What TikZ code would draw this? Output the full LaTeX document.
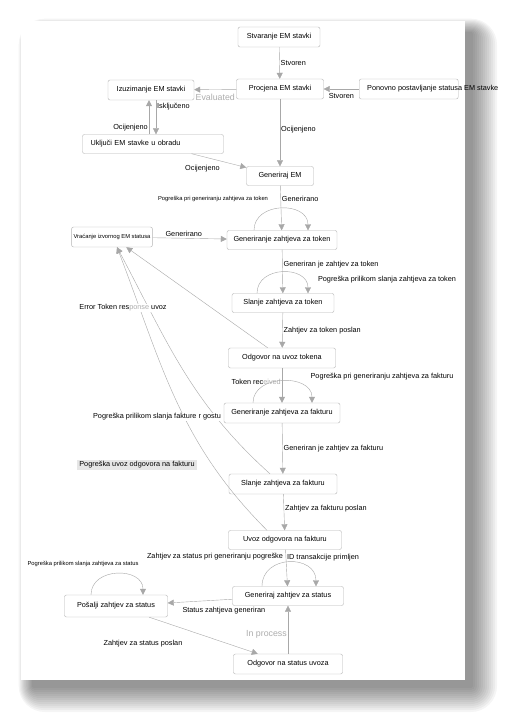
\documentclass[tikz,border=0pt]{standalone}
\usepackage{fontspec}
\setmainfont{Liberation Sans}
\usetikzlibrary{arrows.meta,calc,positioning}
\definecolor{boxline}{HTML}{B4B4B4}
\definecolor{arrowline}{HTML}{A8A8A8}
\definecolor{softtext}{HTML}{ADADAD}
\definecolor{labelfill}{HTML}{E6E6E6}

\begin{document}
\begin{tikzpicture}[x=1pt,y=-1pt,
  font=\fontsize{7.3}{8.5}\selectfont,
  stage/.style={draw=boxline,rounded corners=2pt,fill=white,
                minimum height=20pt,inner sep=2pt},
  trans/.style={draw=arrowline,-{Triangle[length=6pt,width=6pt]}},
  lbl/.style={inner sep=1pt},
  tinylbl/.style={inner sep=1pt,font=\fontsize{5.8}{7}\selectfont},
  soft/.style={inner sep=1pt,text=softtext,font=\fontsize{8.8}{10}\selectfont}
]
  \useasboundingbox (0,0) rectangle (507,722);
  % page with its shadow
  \foreach \rad in {2,4,...,26}
    \fill[black,opacity=0.04,rounded corners=\rad pt]
      (33-0.55*\rad,33-0.55*\rad) rectangle (471+\rad,686+\rad);
  \fill[white] (21,21) rectangle (465,680);

  \node[stage,minimum width=82pt] (create) at (279,37) {Stvaranje EM stavki};
  \node[stage,minimum width=87pt] (assess) at (280,89) {Procjena EM stavki};
  \node[stage,minimum width=86pt] (exclude) at (151,90) {Izuzimanje EM stavki};
  \node[stage,anchor=west,inner xsep=8pt] (reset) at (359,89)
    {\makebox[83pt][l]{Ponovno postavljanje statusa EM stavke}};
  \node[stage,minimum height=19pt,text width=125pt,inner xsep=8pt,align=left]
    (include) at (153,144) {Uključi EM stavke u obradu};
  \node[stage,minimum width=67pt,minimum height=19pt] (genem) at (280,176) {Generiraj EM};
  \node[stage,minimum width=110pt,minimum height=19pt] (gentok) at (282,240)
    {Generiranje zahtjeva za token};
  \node[stage,minimum width=79pt,font=\fontsize{5.8}{7}\selectfont] (revert) at (112,237)
    {Vraćanje izvornog EM statusa};
  \node[stage,minimum width=102pt,minimum height=19pt] (sendtok) at (283,303)
    {Slanje zahtjeva za token};
  \node[stage,minimum width=107pt] (resptok) at (282,358) {Odgovor na uvoz tokena};
  \node[stage,minimum width=116pt] (genfak) at (282,413) {Generiranje zahtjeva za fakturu};
  \node[stage,minimum width=108pt] (sendfak) at (283,484) {Slanje zahtjeva za fakturu};
  \node[stage,minimum width=113pt,minimum height=19pt] (importfak) at (285,540)
    {Uvoz odgovora na fakturu};
  \node[stage,minimum width=111pt,minimum height=19pt] (genstat) at (288,596)
    {Generiraj zahtjev za status};
  \node[stage,minimum width=103pt,minimum height=22pt] (sendstat) at (116,606)
    {Pošalji zahtjev za status};
  \node[stage,minimum width=109pt] (respstat) at (288,664) {Odgovor na status uvoza};

  \draw[trans] (create) -- node[lbl,right] {Stvoren} (assess);
  \draw[trans] (reset) -- node[lbl,below=3pt] {Stvoren} (assess);
  \draw[trans] (assess) -- node[soft,below=3pt] {Evaluated} (exclude);
  \draw[trans] ([xshift=5pt]exclude.south) -- node[lbl,right,pos=0.2] {Isključeno}
    ([xshift=3pt]include.north);
  \draw[trans] ([xshift=-4pt]include.north) -- node[lbl,left,pos=0.2] {Ocijenjeno}
    ([xshift=-2pt]exclude.south);
  \draw[trans] (include) -- node[lbl,pos=0.2,below=8pt] {Ocijenjeno} (genem);
  \draw[trans] (assess) -- node[lbl,right,pos=0.45] {Ocijenjeno} (genem);
  \draw[trans] (genem) -- node[lbl,right,pos=0.3] {Generirano} (gentok);
  \draw[trans] (revert) -- node[lbl,above,pos=0.42] {Generirano} (gentok);
  \draw[trans] (gentok) -- node[lbl,right,pos=0.35] {Generiran je zahtjev za token} (sendtok);
  \draw[trans] (sendtok) -- node[lbl,right] {Zahtjev za token poslan} (resptok);
  \draw[trans] (resptok) -- (revert);
  \draw[trans] (resptok) -- node[lbl,left,pos=0.4] {Token rec\textcolor{softtext}{eived}} (genfak);
  \draw[trans] (genfak) -- node[lbl,right] {Generiran je zahtjev za fakturu} (sendfak);
  \draw[trans] ([xshift=-13pt]sendfak.north) to[out=138,in=-62] ([xshift=5pt]revert.south);
  \draw[trans] (sendfak) -- node[lbl,right,pos=0.4] {Zahtjev za fakturu poslan} (importfak);
  \draw[trans] ([xshift=-18pt]importfak.north) to[out=135,in=-69] ([xshift=5pt]revert.south);
  \draw[trans] (importfak) -- node[lbl,right,pos=0.22] {ID transakcije primljen} (genstat);
  \draw[trans] (genstat) -- node[lbl,below=6pt,pos=0.13] {Status zahtjeva generiran} (sendstat);
  \draw[trans] (sendstat) -- (respstat);
  \draw[trans] (respstat) -- node[soft,left,pos=0.4] {In process} (genstat);

  % error loops
  \draw[trans] ([xshift=-28pt]gentok.north) .. controls +(0,-29) and +(0,-29) .. ([xshift=26pt]gentok.north);
  \draw[trans] ([xshift=-26pt]sendtok.north) .. controls +(0,-28) and +(0,-28) .. ([xshift=25pt]sendtok.north);
  \draw[trans] ([xshift=-29pt]genfak.north) .. controls +(0,-29) and +(0,-29) .. ([xshift=30pt]genfak.north);
  \draw[trans] ([xshift=-26pt]genstat.north) .. controls +(0,-32) and +(0,-32) .. ([xshift=28pt]genstat.north);
  \draw[trans] ([xshift=-25pt]sendstat.north) .. controls +(0,-28) and +(0,-28) .. ([xshift=27pt]sendstat.north);

  \node[tinylbl] (errtok) at (213,199) {Pogreška pri generiranju zahtjeva za token};
  \node[lbl] (errsendtok) at (387,280) {Pogreška prilikom slanja zahtjeva za token};
  \node[lbl,fill=white] (errresp) at (123,308) {Error Token res\textcolor{softtext}{ponse} uvoz};
  \node[lbl] (errgenfak) at (382,377) {Pogreška pri generiranju zahtjeva za fakturu};
  \node[lbl,fill=white] (errsendfak) at (157,417) {Pogreška prilikom slanja fakture r gostu};
  \node[lbl,fill=labelfill,inner sep=2pt] (errimport) at (137,465) {Pogreška uvoz odgovora na fakturu};
  \node[lbl] (errgenstat) at (215,557) {Zahtjev za status pri generiranju pogreške};
  \node[tinylbl] (errsendstat) at (83,564) {Pogreška prilikom slanja zahtjeva za status};
  \node[lbl] (sentstat) at (143,644) {Zahtjev za status poslan};
\end{tikzpicture}
\end{document}
